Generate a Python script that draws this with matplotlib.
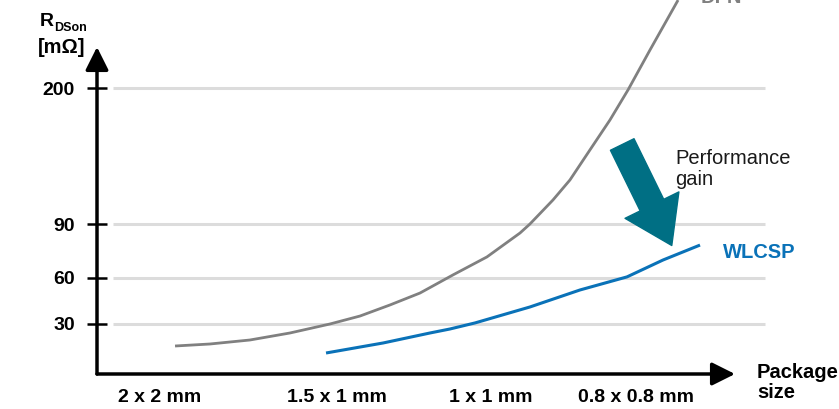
import numpy as np
import matplotlib
matplotlib.use("Agg")
import matplotlib.pyplot as plt

plt.rcParams['font.family'] = ['Liberation Sans', 'DejaVu Sans']

# package sizes along the x axis (positions in "package" units)
packages = ['2 x 2 mm', '1.5 x 1 mm', '1 x 1 mm', '0.8 x 0.8 mm']
package_pos = [0.0, 1.0, 1.87, 2.69]

# R_DSon ticks [mOhm]
r_ticks = [30, 60, 90, 200]

# DFN curve
dfn_x = [0.085, 0.282, 0.508, 0.734, 0.960, 1.130, 1.299, 1.469, 1.655, 1.847,
         2.034, 2.090, 2.220, 2.316, 2.429, 2.542, 2.644, 2.768, 2.927]
dfn_r = [16.8, 18.0, 20.4, 24.6, 30.0, 35.2, 42.4, 50.2, 61.7, 71.7,
         85.0, 90.0, 109.4, 125.6, 149.9, 174.1, 198.4, 230.7, 271.2]

# WLCSP curve
wlcsp_x = [0.938, 1.260, 1.525, 1.638, 1.780, 2.090, 2.373, 2.638, 2.842, 3.051]
wlcsp_r = [12.6, 18.6, 24.6, 27.0, 30.7, 41.1, 52.2, 60.6, 70.0, 78.3]

# the y axis is drawn schematically: piecewise spacing between ticks
y_breaks = np.array([0, 30, 60, 90, 200, 400])
y_place = np.array([0, 50, 96, 150, 286, 533.0])


def fwd(v):
    return np.interp(v, y_breaks, y_place)


def inv(p):
    return np.interp(p, y_place, y_breaks)


W, H = 839, 409
fig = plt.figure(figsize=(W / 100, H / 100), dpi=100)
ax = fig.add_axes([97 / W, 35 / H, (W - 97) / W, 374 / H])
ax.set_yscale('function', functions=(fwd, inv))
ax.set_xlim((97 - 160) / 177, (W - 160) / 177)
ax.set_ylim(0, inv(374))

for s in ax.spines.values():
    s.set_visible(False)

# grid lines
ax.hlines(r_ticks, 16 / 742, 668 / 742, transform=ax.get_yaxis_transform(),
          color='#dcdcdc', lw=2.2, zorder=1)

ax.plot(dfn_x, dfn_r, color='#808080', lw=2.0, zorder=3,
        solid_joinstyle='round', solid_capstyle='butt')
ax.plot(wlcsp_x, wlcsp_r, color='#0a72b8', lw=2.2, zorder=3,
        solid_joinstyle='round', solid_capstyle='butt')

# axes with arrow heads
head = '-|>,head_width=0.35,head_length=0.7'
ax.annotate('', xy=(0, 327 / 374), xytext=(0, 0), xycoords='axes fraction',
            arrowprops=dict(arrowstyle=head, mutation_scale=20, lw=2.5,
                            color='black', shrinkA=0, shrinkB=0),
            annotation_clip=False)
ax.annotate('', xy=(638 / 742, 0), xytext=(0, 0), xycoords='axes fraction',
            arrowprops=dict(arrowstyle=head, mutation_scale=20, lw=2.5,
                            color='black', shrinkA=0, shrinkB=0),
            annotation_clip=False)

ax.set_yticks(r_ticks)
ax.set_yticklabels([str(v) for v in r_ticks], fontweight='bold', fontsize=14)
ax.yaxis.set_minor_locator(matplotlib.ticker.NullLocator())
ax.tick_params(axis='y', direction='inout', length=14, width=1.8, pad=9, color='black')

ax.set_xticks(package_pos)
ax.set_xticklabels(packages, fontweight='bold', fontsize=14)
ax.tick_params(axis='x', length=0, pad=11)

# labels
fig.text(40 / W, 1 - 26 / H, 'R', fontsize=14, fontweight='bold')
fig.text(54 / W, 1 - 31 / H, 'DSon', fontsize=9, fontweight='bold')
fig.text(38 / W, 1 - 53 / H, '[mΩ]', fontsize=14.5, fontweight='bold')
fig.text(757 / W, 1 - 398 / H, 'Package\nsize', fontsize=14.5, fontweight='bold',
         linespacing=1.1)
fig.text(723 / W, 1 - 252 / H, 'WLCSP', fontsize=14.5, fontweight='bold',
         color='#0a72b8', va='center')
fig.text(675 / W, 1 - 185 / H, 'Performance\ngain', fontsize=14.5,
         color='#1a1a1a', linespacing=1.15)
fig.text(701 / W, 1 - 3 / H, 'DFN', fontsize=14.5, fontweight='bold',
         color='#808080', va='baseline')

# performance gain arrow
fig.patches.append(matplotlib.patches.FancyArrowPatch(
    (621, H - 142), (673, H - 248), transform=None,
    arrowstyle='simple,head_width=2.4,head_length=1.8,tail_width=1.05',
    mutation_scale=18, color='#006f84'))

fig.savefig('out.png', dpi=100)
